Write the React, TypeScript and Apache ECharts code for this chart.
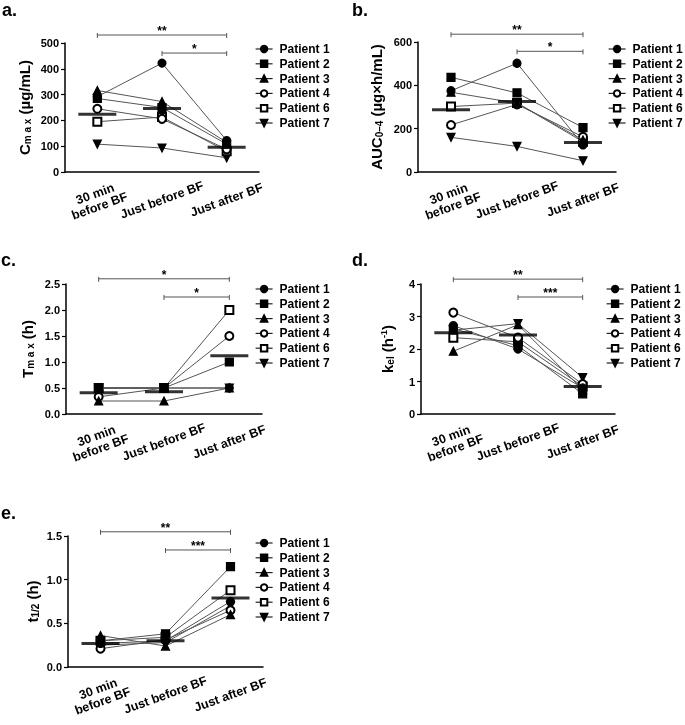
import React, { useEffect, useRef } from 'react';
import * as echarts from 'echarts';

const CATEGORIES = ['30 min\nbefore BF', 'Just before BF', 'Just after BF'];
const PATIENTS = ['Patient 1', 'Patient 2', 'Patient 3', 'Patient 4', 'Patient 6', 'Patient 7'];
const SYMBOLS = ['circle', 'rect', 'triangle', 'emptyCircle', 'emptyRect', 'path://M0,0L10,0L5,9Z'];

// a. Cmax (µg/mL), one row per patient
const CMAX = [
  [292, 422, 122],
  [285, 250, 108],
  [316, 273, 115],
  [245, 206, 88],
  [195, 213, 80],
  [108, 93, 55],
];
const CMAX_MEAN = [224, 246, 96];
const CMAX_SIG = [[0, 2, 531], [1, 2, 461]];
const CMAX_SIG_LABELS = ['**', '*'];

// b. AUC0-4
const AUC = [
  [375, 502, 125],
  [437, 365, 205],
  [368, 318, 148],
  [217, 312, 162],
  [302, 318, 140],
  [160, 118, 52],
];
const AUC_MEAN = [287, 325, 136];
const AUC_SIG = [[0, 2, 636], [1, 2, 557]];
const AUC_SIG_LABELS = ['**', '*'];

// c. Tmax (h)
const TMAX = [
  [0.5, 0.5, 0.5],
  [0.5, 0.5, 1.0],
  [0.25, 0.25, 0.5],
  [0.33, 0.5, 1.5],
  [0.5, 0.5, 2.0],
  [0.5, 0.5, 0.5],
];
const TMAX_MEAN = [0.41, 0.43, 1.12];
const TMAX_SIG = [[0, 2, 2.6], [1, 2, 2.25]];
const TMAX_SIG_LABELS = ['*', '*'];

// d. kel (h-1)
const KEL = [
  [2.72, 2.0, 0.8],
  [2.62, 2.1, 0.62],
  [1.93, 2.75, 0.75],
  [3.12, 2.35, 0.92],
  [2.35, 2.22, 0.85],
  [2.58, 2.78, 1.12],
];
const KEL_MEAN = [2.5, 2.43, 0.85];
const KEL_SIG = [[0, 2, 4.15], [1, 2, 3.6]];
const KEL_SIG_LABELS = ['**', '***'];

// e. t1/2 (h)
const THALF = [
  [0.27, 0.3, 0.75],
  [0.3, 0.38, 1.15],
  [0.36, 0.24, 0.6],
  [0.21, 0.31, 0.65],
  [0.3, 0.34, 0.88],
  [0.25, 0.28, 0.7],
];
const THALF_MEAN = [0.27, 0.3, 0.79];
const THALF_SIG = [[0, 2, 1.548], [1, 2, 1.34]];
const THALF_SIG_LABELS = ['**', '***'];

const FONT = '"Liberation Sans", Arial, Helvetica, sans-serif';

const X_LABEL = {
  rotate: 20,
  fontSize: 12.5,
  fontWeight: 'bold',
  color: '#000',
  align: 'center',
  verticalAlign: 'middle',
  margin: 28,
};

const PANELS = [
  {
    letter: 'a.', lx: 2, ly: 19,
    grid: { left: 65, top: 43, width: 194, height: 129 },
    min: 0, max: 500, interval: 100, dec: 0,
    name: '{b|C}{s|m a x}{b| (µg/mL)}', nameGap: 33,
    values: CMAX, mean: CMAX_MEAN, sig: CMAX_SIG, sigLabels: CMAX_SIG_LABELS,
    legend: { left: 250, top: 38 },
  },
  {
    letter: 'b.', lx: 352, ly: 19,
    grid: { left: 418, top: 42, width: 198, height: 130 },
    min: 0, max: 600, interval: 200, dec: 0,
    name: '{b|AUC}{s|0–4}{b| (µg×h/mL)}', nameGap: 34,
    values: AUC, mean: AUC_MEAN, sig: AUC_SIG, sigLabels: AUC_SIG_LABELS,
    legend: { left: 603, top: 38 },
  },
  {
    letter: 'c.', lx: 1, ly: 269,
    grid: { left: 66, top: 284, width: 196, height: 130 },
    min: 0, max: 2.5, interval: 0.5, dec: 1,
    name: '{b|T}{s|m a x}{b| (h)}', nameGap: 31,
    values: TMAX, mean: TMAX_MEAN, sig: TMAX_SIG, sigLabels: TMAX_SIG_LABELS,
    legend: { left: 250, top: 278 },
  },
  {
    letter: 'd.', lx: 352, ly: 269,
    grid: { left: 421, top: 284, width: 194, height: 130 },
    min: 0, max: 4, interval: 1, dec: 0,
    name: '{b|k}{s|el}{b| (h}{p|-1}{b|)}', nameGap: 26,
    values: KEL, mean: KEL_MEAN, sig: KEL_SIG, sigLabels: KEL_SIG_LABELS,
    legend: { left: 601, top: 278 },
  },
  {
    letter: 'e.', lx: 1, ly: 522,
    grid: { left: 68, top: 536, width: 195, height: 131 },
    min: 0, max: 1.5, interval: 0.5, dec: 1,
    name: '{b|t}{s|1/2}{b| (h)}', nameGap: 28,
    values: THALF, mean: THALF_MEAN, sig: THALF_SIG, sigLabels: THALF_SIG_LABELS,
    legend: { left: 250, top: 532 },
  },
];

function buildOption() {
  const grids: any[] = [];
  const xAxes: any[] = [];
  const yAxes: any[] = [];
  const series: any[] = [];
  const legends: any[] = [];
  const graphics: any[] = [];

  PANELS.forEach((p, k) => {
    grids.push({ ...p.grid });
    xAxes.push({
      type: 'category',
      gridIndex: k,
      data: CATEGORIES,
      axisLine: { lineStyle: { color: '#000', width: 1.5 } },
      axisTick: { alignWithLabel: true, length: 4, lineStyle: { color: '#000', width: 1.2 } },
      axisLabel: { interval: 0, ...X_LABEL },
    });
    yAxes.push({
      type: 'value',
      gridIndex: k,
      min: p.min,
      max: p.max,
      interval: p.interval,
      name: p.name,
      nameLocation: 'middle',
      nameRotate: 90,
      nameGap: p.nameGap,
      nameTextStyle: {
        rich: {
          b: { fontSize: 15, fontWeight: 'bold', fontFamily: FONT, color: '#000' },
          s: { fontSize: 10, fontWeight: 'bold', fontFamily: FONT, color: '#000', verticalAlign: 'bottom', padding: [6, 0, 0, 0] },
          p: { fontSize: 9, fontWeight: 'bold', fontFamily: FONT, color: '#000', verticalAlign: 'top' },
        },
      },
      axisLine: { show: true, lineStyle: { color: '#000', width: 1.5 } },
      axisTick: { show: true, length: 4, lineStyle: { color: '#000', width: 1.2 } },
      axisLabel: {
        color: '#000',
        fontWeight: 'bold',
        fontSize: 11,
        fontFamily: FONT,
        margin: 6,
        formatter: (v: number) => v.toFixed(p.dec),
      },
      splitLine: { show: false },
    });

    p.values.forEach((row, i) => {
      series.push({
        type: 'line',
        name: PATIENTS[i],
        xAxisIndex: k,
        yAxisIndex: k,
        data: row,
        symbol: SYMBOLS[i],
        symbolSize: 8,
        z: 3 + (PATIENTS.length - i),
        itemStyle: { color: '#000', borderColor: '#000', borderWidth: 1.2 },
        lineStyle: { color: '#555', width: 1 },
        emphasis: { disabled: true },
        silent: true,
      });
    });

    series.push({
      type: 'scatter',
      name: 'Mean',
      xAxisIndex: k,
      yAxisIndex: k,
      data: p.mean.map((m, j) => [j, m]),
      symbol: 'rect',
      symbolSize: [38, 3],
      itemStyle: { color: '#000' },
      z: 20,
      silent: true,
    });

    const labels = p.sigLabels;
    series.push({
      type: 'custom',
      name: 'sig',
      xAxisIndex: k,
      yAxisIndex: k,
      data: p.sig,
      encode: { x: [0, 1], y: 2 },
      clip: false,
      silent: true,
      z: 20,
      renderItem: (params: any, api: any) => {
        const a = api.coord([api.value(0), api.value(2)]);
        const b = api.coord([api.value(1), api.value(2)]);
        const st = { stroke: '#555', lineWidth: 1 };
        return {
          type: 'group',
          children: [
            { type: 'line', shape: { x1: a[0], y1: a[1], x2: b[0], y2: b[1] }, style: st },
            { type: 'line', shape: { x1: a[0], y1: a[1] - 2, x2: a[0], y2: a[1] + 3 }, style: st },
            { type: 'line', shape: { x1: b[0], y1: b[1] - 2, x2: b[0], y2: b[1] + 3 }, style: st },
            {
              type: 'text',
              style: {
                text: labels[params.dataIndex],
                x: (a[0] + b[0]) / 2,
                y: a[1] + 2,
                align: 'center',
                verticalAlign: 'bottom',
                fontSize: 12,
                fontWeight: 'bold',
                fontFamily: FONT,
                fill: '#000',
              },
            },
          ],
        };
      },
    });

    legends.push({
      data: PATIENTS,
      orient: 'vertical',
      left: p.legend.left,
      top: p.legend.top,
      itemWidth: 17,
      itemHeight: 8,
      itemGap: 2.8,
      selectedMode: false,
      lineStyle: { color: '#222', width: 1.2 },
      textStyle: {
        fontSize: 12,
        fontWeight: 'bold',
        color: '#000',
        fontFamily: FONT,
        lineHeight: 12,
        padding: [0, 0, 0, 2],
      },
    });

    graphics.push({
      type: 'text',
      x: p.lx,
      y: p.ly,
      style: {
        text: p.letter,
        fontSize: 18,
        fontWeight: 'bold',
        fontFamily: FONT,
        fill: '#000',
        verticalAlign: 'bottom',
      },
    });
  });

  return {
    animation: false,
    grid: grids,
    xAxis: xAxes,
    yAxis: yAxes,
    legend: legends,
    series,
    graphic: graphics,
  };
}

export default function App() {
  const ref = useRef<HTMLDivElement>(null);
  useEffect(() => {
    if (!ref.current) return;
    const chart = echarts.init(ref.current, undefined, { renderer: 'svg' });
    chart.setOption(buildOption() as any);
    return () => chart.dispose();
  }, []);
  return <div ref={ref} style={{ position: 'fixed', left: 0, top: 0, width: 685, height: 725 }} />;
}
